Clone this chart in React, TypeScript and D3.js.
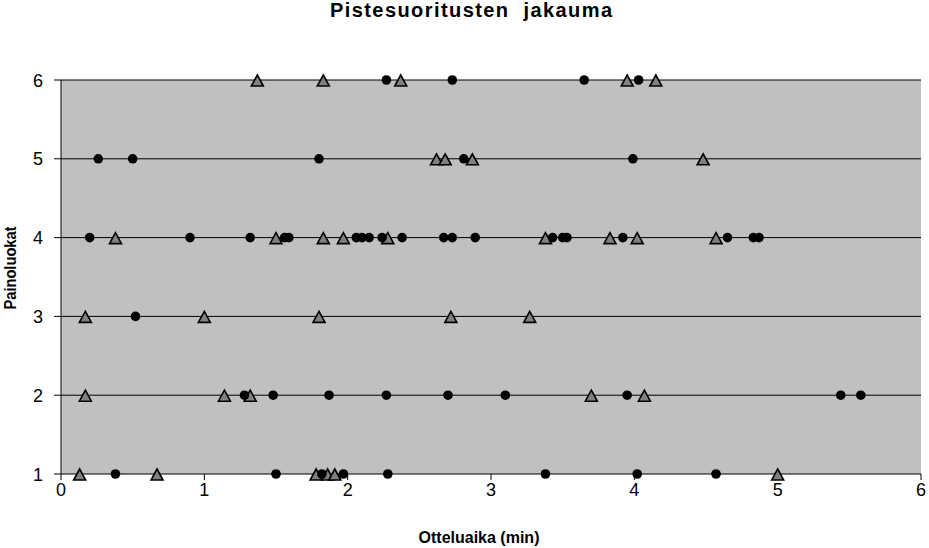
import React from "react";
import * as d3 from "d3";

// Series 1 (black circles)
const circleX = [
  2.27, 2.73, 3.65, 4.03,
  0.26, 0.5, 1.8, 2.81, 3.99,
  0.2, 0.9, 1.32, 1.56, 1.59, 2.06, 2.1, 2.15, 2.24, 2.38, 2.67, 2.73, 2.89, 3.43, 3.5, 3.53, 3.92, 4.65, 4.83, 4.87,
  0.52,
  1.28, 1.48, 1.87, 2.27, 2.7, 3.1, 3.95, 5.44, 5.58,
  0.38, 1.5, 1.82, 1.97, 2.28, 3.38, 4.02, 4.57,
];
const circleY = [
  6, 6, 6, 6,
  5, 5, 5, 5, 5,
  4, 4, 4, 4, 4, 4, 4, 4, 4, 4, 4, 4, 4, 4, 4, 4, 4, 4, 4, 4,
  3,
  2, 2, 2, 2, 2, 2, 2, 2, 2,
  1, 1, 1, 1, 1, 1, 1, 1,
];

// Series 2 (grey triangles)
const triangleX = [
  1.37, 1.83, 2.37, 3.95, 4.15,
  2.62, 2.68, 2.87, 4.48,
  0.38, 1.5, 1.83, 1.97, 2.28, 3.38, 3.83, 4.02, 4.57,
  0.17, 1.0, 1.8, 2.72, 3.27,
  0.17, 1.14, 1.32, 3.7, 4.07,
  0.13, 0.67, 1.78, 1.86, 1.91, 5.0,
];
const triangleY = [
  6, 6, 6, 6, 6,
  5, 5, 5, 5,
  4, 4, 4, 4, 4, 4, 4, 4, 4,
  3, 3, 3, 3, 3,
  2, 2, 2, 2, 2,
  1, 1, 1, 1, 1, 1,
];

const xTicks = [0, 1, 2, 3, 4, 5, 6];
const yTicks = [1, 2, 3, 4, 5, 6];

const title = "Pistesuoritusten  jakauma";
const xTitle = "Otteluaika (min)";
const yTitle = "Painoluokat";

const W = 929;
const H = 548;
const left = 61;
const right = 921;
const top = 80;
const bottom = 474;

export default function App() {
  const x = d3.scaleLinear().domain([0, 6]).range([left, right]);
  const y = d3.scaleLinear().domain([1, 6]).range([bottom, top]);
  const font = "Arial, 'Liberation Sans', sans-serif";
  const tw = 12;
  const th = 11;
  const tri = `M0,${-th / 2}L${tw / 2},${th / 2}L${-tw / 2},${th / 2}Z`;

  return (
    <svg
      width={W}
      height={H}
      style={{ position: "absolute", left: 0, top: 0, display: "block", background: "#fff" }}
      fontFamily={font}
    >
      <rect x={0} y={0} width={W} height={H} fill="#fff" />
      <text
        x={471}
        y={17}
        textAnchor="middle"
        fontSize={20}
        fontWeight="bold"
        textLength={282}
        lengthAdjust="spacing"
        style={{ whiteSpace: "pre" }}
      >
        {title}
      </text>
      <rect x={left} y={top} width={right - left} height={bottom - top} fill="#C0C0C0" />
      {yTicks.map((t) => (
        <line key={"g" + t} x1={left} x2={right} y1={y(t)} y2={y(t)} stroke="#000" strokeWidth={1} />
      ))}
      <line x1={left} x2={left} y1={top} y2={bottom} stroke="#000" strokeWidth={1} />
      {yTicks.map((t) => (
        <g key={"yt" + t}>
          <line x1={left - 7} x2={left} y1={y(t)} y2={y(t)} stroke="#000" />
          <text x={left - 18} y={y(t)} dy="0.37em" textAnchor="end" fontSize={18}>
            {t}
          </text>
        </g>
      ))}
      {xTicks.map((t) => (
        <g key={"xt" + t}>
          <line x1={x(t)} x2={x(t)} y1={bottom} y2={bottom + 6} stroke="#000" />
          <text x={x(t)} y={496} textAnchor="middle" fontSize={18}>
            {t}
          </text>
        </g>
      ))}
      <text x={479} y={543} textAnchor="middle" fontSize={16} fontWeight="bold">
        {xTitle}
      </text>
      <text
        transform={`translate(16,${268}) rotate(-90)`}
        textAnchor="middle"
        fontSize={16}
        fontWeight="bold"
        textLength={83}
        lengthAdjust="spacingAndGlyphs"
      >
        {yTitle}
      </text>
      {triangleX.map((v, i) => (
        <path
          key={"t" + i}
          d={tri}
          transform={`translate(${x(v)},${y(triangleY[i]) + 0.5})`}
          fill="#808080"
          stroke="#000"
          strokeWidth={1.6}
          strokeLinejoin="miter"
        />
      ))}
      {circleX.map((v, i) => (
        <circle key={"c" + i} cx={x(v)} cy={y(circleY[i])} r={4.8} fill="#000" />
      ))}
    </svg>
  );
}
